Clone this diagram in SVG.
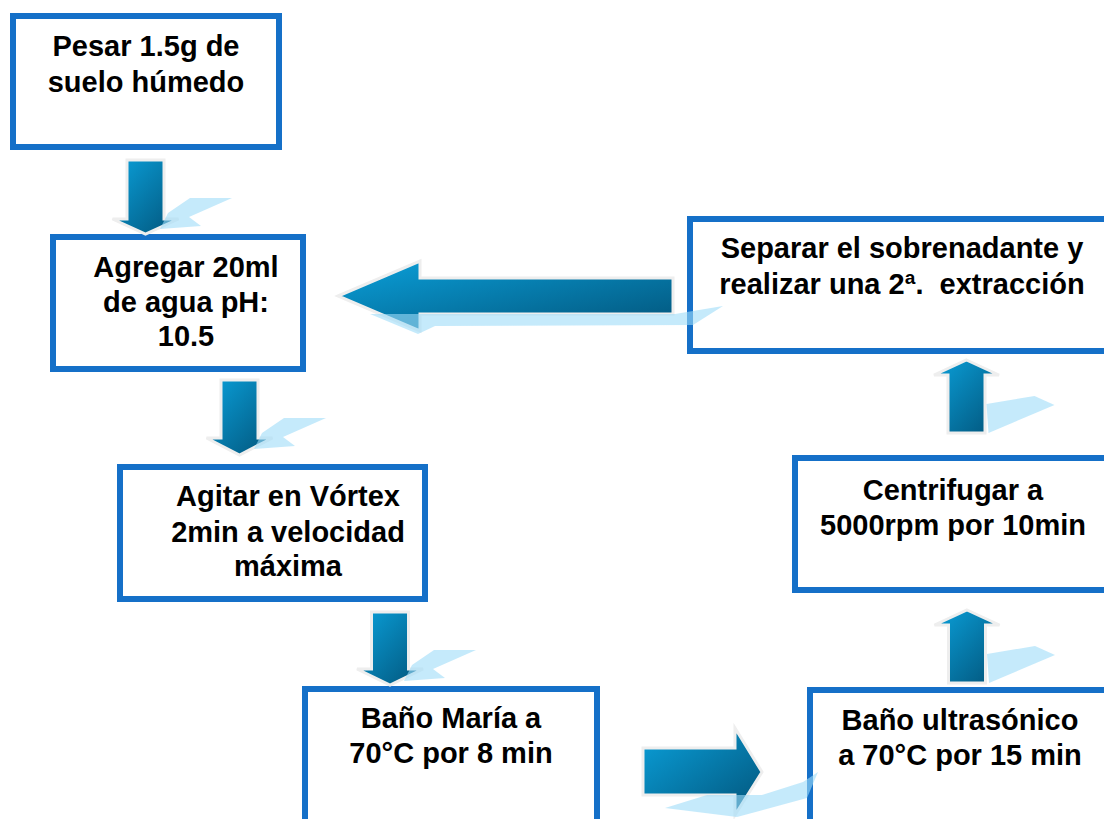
<svg xmlns="http://www.w3.org/2000/svg" width="1104" height="819" viewBox="0 0 1104 819">
<defs>
<linearGradient id="ag" x1="0" y1="0" x2="1" y2="1">
<stop offset="0" stop-color="#0aa0da"/>
<stop offset="1" stop-color="#02547a"/>
</linearGradient>
<style>
.box{fill:#ffffff;stroke:#1570c8;stroke-width:6}
.t{font-family:"Liberation Sans",Arial,sans-serif;font-weight:bold;font-size:29px;fill:#000;text-anchor:middle;white-space:pre}
.arr{fill:url(#ag);stroke:#eeeeee;stroke-width:3;stroke-linejoin:miter}
.sh{fill:#9fdcf8;opacity:0.6}
</style>
</defs>
<rect width="1104" height="819" fill="#ffffff"/>

<g id="n1"><rect class="box" x="13" y="16" width="266" height="131"/>
<text class="t" x="146" y="56">Pesar 1.5g de</text>
<text class="t" x="146" y="92">suelo húmedo</text></g>

<g id="n2"><rect class="box" x="53" y="237" width="250" height="132"/>
<text class="t" x="186" y="277">Agregar 20ml</text>
<text class="t" x="186" y="312">de agua pH:</text>
<text class="t" x="186" y="346">10.5</text></g>

<g id="n3"><rect class="box" x="120" y="467" width="305" height="132"/>
<text class="t" x="288" y="506">Agitar en Vórtex</text>
<text class="t" x="288" y="542">2min a velocidad</text>
<text class="t" x="288" y="576">máxima</text></g>

<g id="n4"><rect class="box" x="305" y="689" width="292" height="150"/>
<text class="t" x="451" y="728">Baño María a</text>
<text class="t" x="451" y="763">70°C por 8 min</text></g>

<g id="n5"><rect class="box" x="810" y="690" width="320" height="150"/>
<text class="t" x="960" y="730">Baño ultrasónico</text>
<text class="t" x="960" y="765">a 70°C por 15 min</text></g>

<g id="n6"><rect class="box" x="795" y="458" width="320" height="132"/>
<text class="t" x="953" y="500">Centrifugar a</text>
<text class="t" x="953" y="535">5000rpm por 10min</text></g>

<g id="n7"><rect class="box" x="690" y="219" width="420" height="132"/>
<text class="t" x="902" y="258">Separar el sobrenadante y</text>
<text class="t" x="902" y="294" xml:space="preserve">realizar una 2ª.  extracción</text></g>

<g id="connectors">
<path class="arr" d="M127,160 H164 V219 H178.5 L145.5,234 L112.5,219 H127 Z"/>
<path class="sh" d="M190,198 L232,198 L189,217 L201,226 L160,229 L168,213 Z"/>
<path class="arr" d="M221,380 H258 V438 H272.5 L239.5,455 L206.5,438 H221 Z"/>
<path class="sh" d="M284,418 L326,418 L283,437 L295,446 L254,449 L262,433 Z"/>
<path class="arr" d="M371.5,612 H408.5 V669 H423 L390,685 L357,669 H371.5 Z"/>
<path class="sh" d="M434,650 L476,650 L433,669 L445,678 L404,681 L412,665 Z"/>
<path class="arr" d="M643,748 H735 V728 L762,772 L735,815 V795 H643 Z"/>
<path class="sh" d="M665,808 L707,795 L762,795 L803,782 L818,772 L807,798 L737,817 Z"/>
<path class="arr" d="M967,610 L999.5,625 H985.5 V683 H948.5 V625 H934.5 Z"/>
<path class="sh" d="M987,654 L1035,646 L1055,655 L989,683 Z"/>
<path class="arr" d="M966.5,360 L999,375 H985 V433 H948 V375 H934 Z"/>
<path class="sh" d="M986.5,404 L1034.5,396 L1054.5,405 L988.5,433 Z"/>
<path class="arr" d="M338,296 L420,261 V278 H673 V314 H420 V331 Z"/>
<path class="sh" d="M370,314 L675,314 L723,306 L693,325 L435,326 L418,334 Z"/>
</g>
</svg>
